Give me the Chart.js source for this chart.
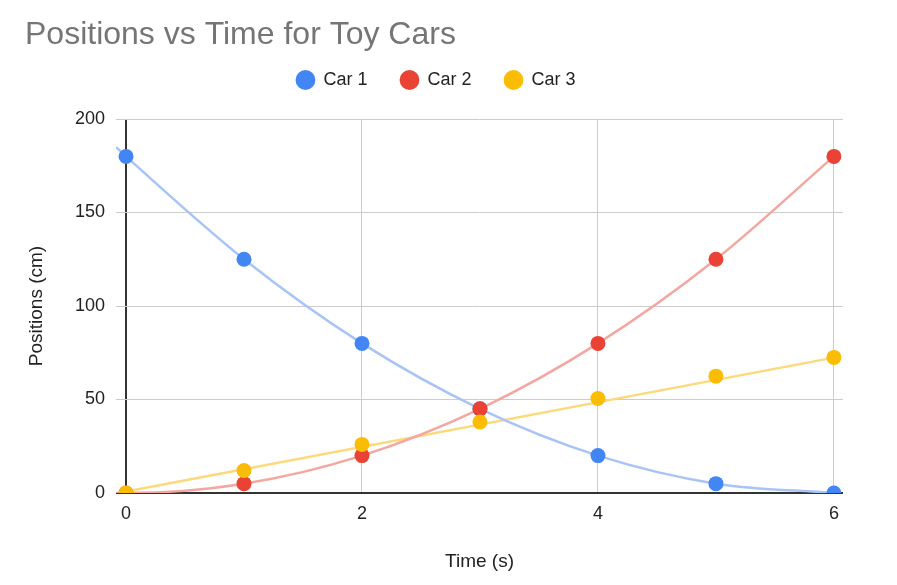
<!DOCTYPE html>
<html>
<head>
<meta charset="utf-8">
<title>Positions vs Time for Toy Cars</title>
<script src="https://cdn.jsdelivr.net/npm/chart.js@4.4.1/dist/chart.umd.min.js"></script>
<style>
  html, body { margin: 0; padding: 0; background: #fff; }
  #wrap { width: 897px; height: 585px; }
</style>
</head>
<body>
<div id="wrap"><canvas id="chart" width="897" height="585"></canvas></div>
<script>
'use strict';

// data
var times = [0, 1, 2, 3, 4, 5, 6];
var car1 = [180, 125, 80, 45, 20, 5, 0];
var car2 = [0, 5, 20, 45, 80, 125, 180];
var car3 = [0, 12, 26, 38, 50.5, 62.5, 72.5];

// trendlines as they appear in the picture (car 1 and 2 start just left of the axis)
var trend1X = [-0.085, 0, 1, 2, 3, 4, 5, 6];
var trend1Y = [185, 180, 125, 80, 45, 20, 5, 0];
var trend2X = [-0.085, 0, 1, 2, 3, 4, 5, 6];
var trend2Y = [0, 0, 5, 20, 45, 80, 125, 180];
var trend3X = [0, 6];
var trend3Y = [0.8, 72.4];

var xTicks = [0, 2, 4, 6];
var yTicks = [0, 50, 100, 150, 200];

var FONT = "'Liberation Sans', Arial, sans-serif";

function pts(xs, ys) {
    return xs.map(function (x, i) { return { x: x, y: ys[i] }; });
}

function pointSet(label, values, color, order) {
    return {
        label: label,
        data: pts(times, values),
        showLine: false,
        backgroundColor: color,
        borderColor: color,
        borderWidth: 0,
        pointRadius: 7.5,
        pointHoverRadius: 7.5,
        pointBorderWidth: 0,
        pointStyle: 'circle',
        clip: 0,
        order: order
    };
}

function trendSet(xs, ys, color) {
    return {
        label: '',
        data: pts(xs, ys),
        showLine: true,
        borderColor: color,
        backgroundColor: color,
        borderWidth: 2.5,
        pointRadius: 0,
        pointHoverRadius: 0,
        cubicInterpolationMode: 'monotone',
        clip: 0,
        order: 10
    };
}

var datasets = [
    pointSet('Car 1', car1, '#4285F4', 3),
    pointSet('Car 2', car2, '#EA4335', 2),
    pointSet('Car 3', car3, '#FBBC04', 1),
    trendSet(trend1X, trend1Y, '#a8c4f7'),
    trendSet(trend2X, trend2Y, '#f4a6a0'),
    trendSet(trend3X, trend3Y, '#fcd97a')
];

var ctx = document.getElementById('chart').getContext('2d');
new Chart(ctx, {
    type: 'scatter',
    data: { datasets: datasets },
    options: {
        responsive: false,
        animation: false,
        events: [],
        layout: { padding: { left: 25, right: 50, top: 0, bottom: 0 } },
        plugins: {
            tooltip: { enabled: false },
            title: {
                display: true,
                text: 'Positions vs Time for Toy Cars',
                align: 'start',
                color: '#757575',
                font: { family: FONT, size: 32, weight: 'normal' },
                padding: { top: 16, bottom: -16.4 }
            },
            legend: {
                display: true,
                position: 'top',
                align: 'center',
                labels: {
                    usePointStyle: true,
                    boxWidth: 18,
                    boxHeight: 14,
                    padding: 33,
                    color: '#222',
                    font: { family: FONT, size: 18 },
                    filter: function (item) { return item.datasetIndex < 3; },
                    sort: function (a, b) { return a.datasetIndex - b.datasetIndex; }
                }
            }
        },
        scales: {
            x: {
                type: 'linear',
                position: 'bottom',
                min: -0.085,
                max: 6.077,
                afterBuildTicks: function (scale) {
                    scale.ticks = xTicks.map(function (v) { return { value: v }; });
                },
                afterFit: function (scale) { scale.height = 92; },
                border: { display: false },
                grid: {
                    drawTicks: false,
                    color: function (c) { return c.tick && c.tick.value === 0 ? '#333' : '#cccccc'; },
                    lineWidth: function (c) { return c.tick && c.tick.value === 0 ? 2 : 1; }
                },
                ticks: {
                    color: '#222',
                    padding: 10,
                    maxRotation: 0,
                    font: { family: FONT, size: 18 }
                },
                title: {
                    display: true,
                    text: 'Time (s)',
                    color: '#222',
                    font: { family: FONT, size: 19 },
                    padding: { top: 0, bottom: 11.6 }
                }
            },
            y: {
                type: 'linear',
                position: 'left',
                min: 0,
                max: 200,
                afterBuildTicks: function (scale) {
                    scale.ticks = yTicks.map(function (v) { return { value: v }; });
                },
                afterFit: function (scale) { scale.width = 91; },
                border: { display: false },
                grid: {
                    drawTicks: false,
                    color: function (c) { return c.tick && c.tick.value === 0 ? '#333' : '#cccccc'; },
                    lineWidth: function (c) { return c.tick && c.tick.value === 0 ? 2 : 1; }
                },
                ticks: {
                    color: '#222',
                    padding: 11,
                    font: { family: FONT, size: 18 }
                },
                title: {
                    display: true,
                    text: 'Positions (cm)',
                    color: '#222',
                    font: { family: FONT, size: 19 },
                    padding: { top: 0, bottom: 0 }
                }
            },
            // empty boxes that only hold space, to place the plot area like the reference
            xTop: {
                type: 'linear',
                position: 'top',
                display: true,
                border: { display: false },
                grid: { display: false },
                ticks: { display: false },
                afterFit: function (scale) { scale.height = 20; }
            },
            yRight: {
                type: 'linear',
                position: 'right',
                display: true,
                border: { display: false },
                grid: { display: false },
                ticks: { display: false },
                afterFit: function (scale) { scale.width = 4; }
            }
        }
    }
});
</script>
</body>
</html>
